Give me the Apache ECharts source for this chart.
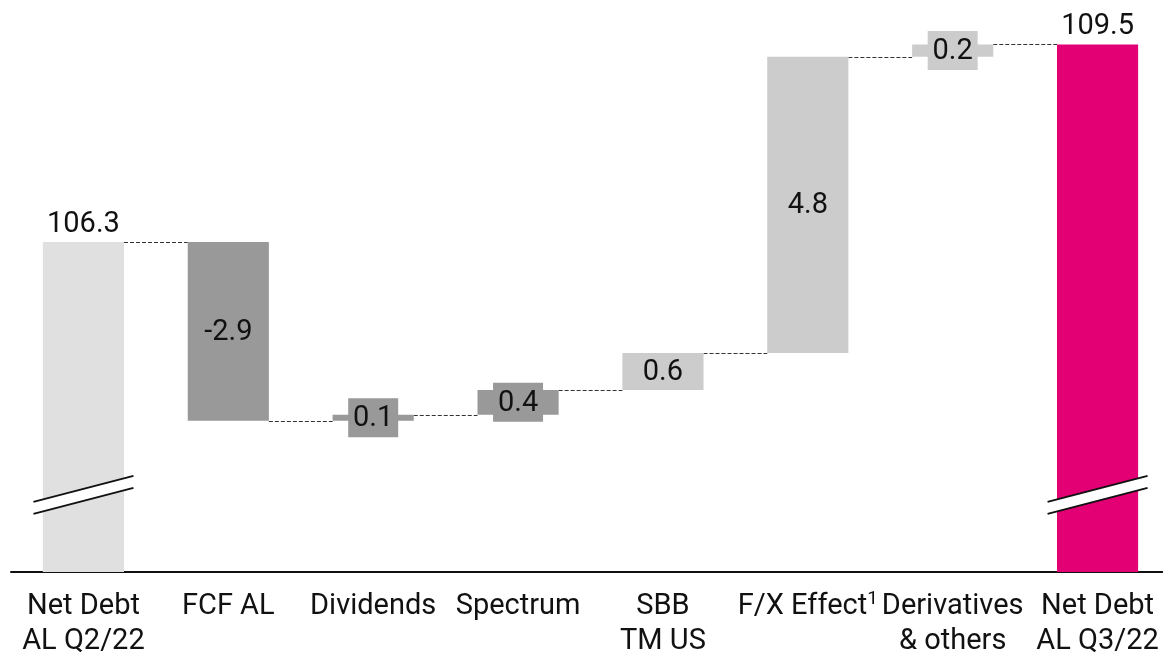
<!DOCTYPE html>
<html>
<head>
<meta charset="utf-8">
<script src="https://cdn.jsdelivr.net/npm/echarts@6/dist/echarts.min.js"></script>
<style>
html,body{margin:0;padding:0;background:#fff;}
#main{width:1163px;height:655px;}
</style>
</head>
<body>
<div id="main"></div>
<script>
// ---- data ----
const categories = ['Net Debt\nAL Q2/22', 'FCF AL', 'Dividends', 'Spectrum', 'SBB\nTM US', 'F/X Effect{sup|1}', 'Derivatives\n& others', 'Net Debt\nAL Q3/22'];
const startTotal = 106.3;
const changes = [-2.9, 0.1, 0.4, 0.6, 4.8, 0.2];
const endTotal = 109.5;
const startLabel = '106.3';
const changeLabels = ['-2.9', '0.1', '0.4', '0.6', '4.8', '0.2'];
const endLabel = '109.5';
const breakValue = 102.2;

// ---- styles ----
const barColors = ['#e0e0e0', '#999999', '#999999', '#999999', '#cccccc', '#cccccc', '#cccccc', '#e20074'];
const yMin = 100.95, yMax = 110.22;
const FONT = '29px Roboto';

// build waterfall rows: [index, low, high, label, isSmall, isTotal]
const rows = [];
rows.push([0, yMin, startTotal, startLabel, 0, 1]);
let level = startTotal;
const levels = [startTotal];
changes.forEach((d, k) => {
  const lo = Math.min(level, level + d), hi = Math.max(level, level + d);
  rows.push([k + 1, lo, hi, changeLabels[k], Math.abs(d) < 0.5 ? 1 : 0, 0]);
  level = +(level + d).toFixed(4);
  levels.push(level);
});
rows.push([categories.length - 1, yMin, endTotal, endLabel, 0, 1]);
// connector rows: [fromIndex, level]
const connectors = levels.map((v, i) => [i, v]);

const chart = echarts.init(document.getElementById('main'), null, {renderer: 'canvas'});

function renderBar(params, api) {
  const i = api.value(0);
  const lo = api.value(1), hi = api.value(2);
  const row = rows[params.dataIndex];
  const cx = api.coord([i, hi])[0];
  const bw = api.size([1, 0])[0] * 0.56;
  const yLo = api.coord([i, lo])[1];
  const yHi = api.coord([i, hi])[1];
  const color = barColors[i];
  const children = [{
    type: 'rect',
    shape: {x: cx - bw / 2, y: yHi, width: bw, height: yLo - yHi},
    style: {fill: color}
  }];
  const cy = (yLo + yHi) / 2;
  if (row[5]) {
    children.push({type: 'text', style: {text: row[3], x: cx, y: yHi - 3, align: 'center', verticalAlign: 'bottom', font: FONT, fill: '#111'}});
  } else {
    if (row[4]) {
      children.push({type: 'rect', shape: {x: cx - 25, y: cy - 19.5, width: 50, height: 39}, style: {fill: color}});
    }
    children.push({type: 'text', style: {text: row[3], x: cx, y: cy + 1, align: 'center', verticalAlign: 'middle', font: FONT, fill: '#111'}});
  }
  return {type: 'group', children};
}

function renderConnector(params, api) {
  const i = api.value(0), v = api.value(1);
  const bw = api.size([1, 0])[0] * 0.56;
  const p1 = api.coord([i, v]);
  const p2 = api.coord([i + 1, v]);
  return {
    type: 'line',
    shape: {x1: p1[0] + bw / 2, y1: Math.round(p1[1]) + 0.5, x2: p2[0] - bw / 2, y2: Math.round(p1[1]) + 0.5},
    style: {stroke: '#333', lineWidth: 1, lineDash: [4, 2]}
  };
}

function renderBreak(params, api) {
  const p = api.coord([api.value(0), api.value(1)]);
  const cx = p[0], cy = p[1];
  return {
    type: 'group',
    children: [
      {type: 'polygon', shape: {points: [[cx - 50, cy + 7], [cx + 50, cy - 19], [cx + 50, cy - 7], [cx - 50, cy + 19]]}, style: {fill: '#fff'}},
      {type: 'line', shape: {x1: cx - 50, y1: cy + 7, x2: cx + 50, y2: cy - 19}, style: {stroke: '#111', lineWidth: 2}},
      {type: 'line', shape: {x1: cx - 50, y1: cy + 19, x2: cx + 50, y2: cy - 7}, style: {stroke: '#111', lineWidth: 2}}
    ]
  };
}

chart.setOption({
  animation: false,
  backgroundColor: '#fff',
  grid: {left: 11, right: -7, top: 0, bottom: 83, containLabel: false, outerBoundsMode: 'none'},
  xAxis: {
    type: 'category',
    data: categories,
    axisLine: {lineStyle: {color: '#111', width: 2}},
    axisTick: {show: false},
    axisLabel: {
      interval: 0,
      margin: 17,
      color: '#111',
      fontFamily: 'Roboto',
      fontSize: 29,
      lineHeight: 35,
      hideOverlap: false,
      rich: {sup: {fontFamily: 'Roboto', fontSize: 19, color: '#111', padding: [0, 0, 14, 0]}}
    }
  },
  yAxis: {type: 'value', min: yMin, max: yMax, show: false, splitLine: {show: false}},
  series: [
    {type: 'custom', renderItem: renderConnector, data: connectors, z: 1, silent: true},
    {type: 'custom', renderItem: renderBar, data: rows.map(r => [r[0], r[1], r[2]]), z: 2, silent: true},
    {type: 'custom', renderItem: renderBreak, data: [[0, breakValue], [categories.length - 1, breakValue]], z: 3, silent: true}
  ]
});
</script>
</body>
</html>
